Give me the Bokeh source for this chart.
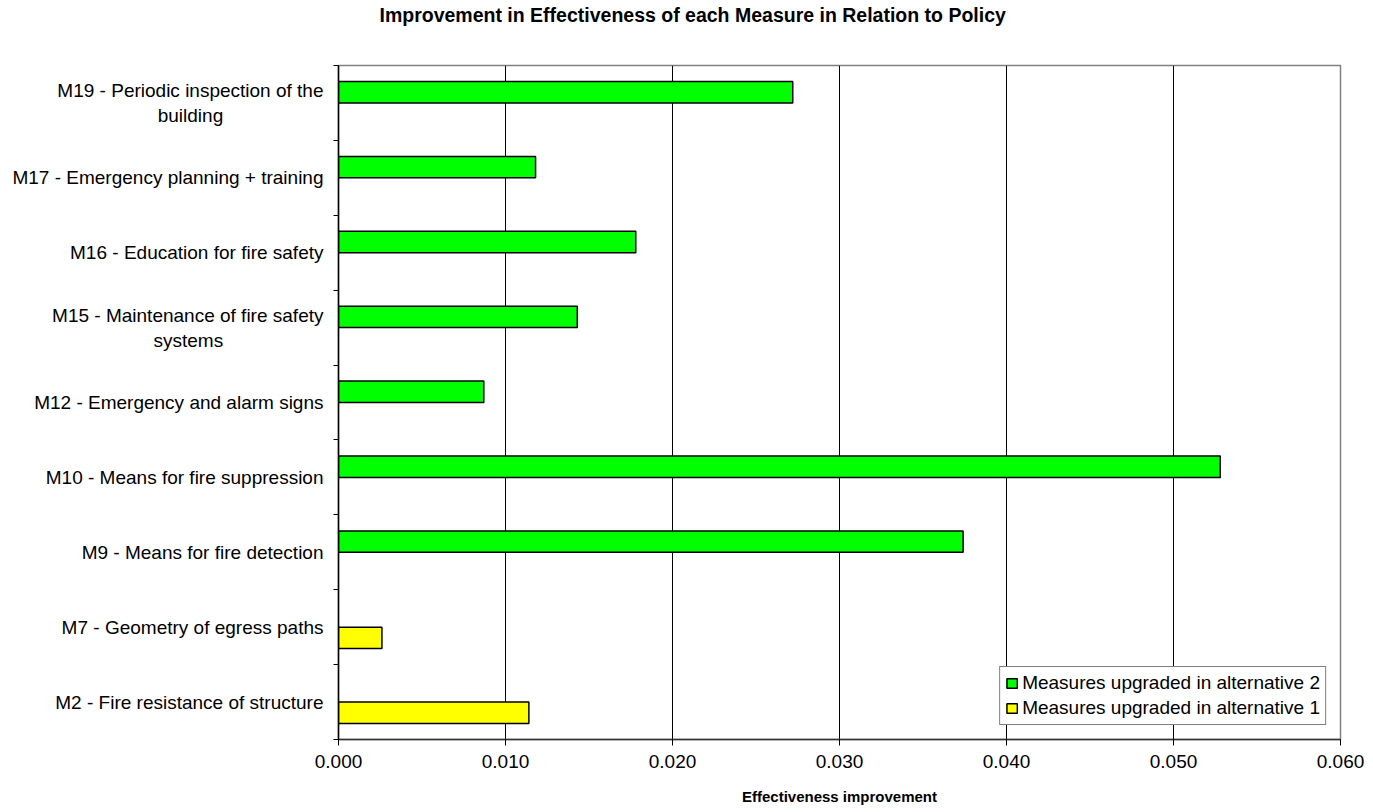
import numpy as np
from bokeh.plotting import figure
from bokeh.models import Range1d, FixedTicker, NumeralTickFormatter, ColumnDataSource, Title
from bokeh.embed import file_html
from bokeh.resources import INLINE

# ---- data (bottom to top) ----
measures = [
    "M2 - Fire resistance of structure",
    "M7 - Geometry of egress paths",
    "M9 - Means for fire detection",
    "M10 - Means for fire suppression",
    "M12 - Emergency and alarm signs",
    "M15 - Maintenance of fire safety\nsystems",
    "M16 - Education for fire safety",
    "M17 - Emergency planning + training",
    "M19 - Periodic inspection of the\nbuilding",
]
alt2_values = [np.nan, np.nan, 0.0374, 0.0528, 0.0087, 0.0143, 0.0178, 0.0118, 0.0272]
alt1_values = [0.0114, 0.0026, np.nan, np.nan, np.nan, np.nan, np.nan, np.nan, np.nan]
x_ticks = [0.0, 0.01, 0.02, 0.03, 0.04, 0.05, 0.06]
title_text = "Improvement in Effectiveness of each Measure in Relation to Policy"
x_title = "Effectiveness improvement"
alt2_name = "Measures upgraded in alternative 2"
alt1_name = "Measures upgraded in alternative 1"

FONT = "Liberation Sans"
FS = 19

# Arial / Liberation Sans advance widths (per 1000 em), used to centre 2nd lines
W = {' ': 278, '-': 333, '+': 584, 'M': 833, 'P': 667, 'E': 667, 'F': 611, 'G': 778,
     'a': 556, 'b': 556, 'c': 500, 'd': 556, 'e': 556, 'f': 278, 'g': 556, 'h': 556,
     'i': 222, 'l': 222, 'm': 833, 'n': 556, 'o': 556, 'p': 556, 'r': 333, 's': 500,
     't': 278, 'u': 556, 'v': 500, 'y': 500}


def text_width(s):
    return sum(W.get(ch, 556) for ch in s)


def centred_label(name):
    lines = name.split("\n")
    if len(lines) == 1:
        return name
    pad = int(round((text_width(lines[0]) - text_width(lines[1])) / 2 / 278))
    return lines[0] + "\n" + lines[1] + "\u00a0" * pad


n = len(measures)
idx = np.arange(n)
bar_h = 1 / 3.5
off = bar_h / 2

src2 = ColumnDataSource(dict(y=idx + 0.5 + off, right=alt2_values))
src1 = ColumnDataSource(dict(y=idx + 0.5 - off, right=alt1_values))

p = figure(width=1373, height=812, x_range=Range1d(x_ticks[0], x_ticks[-1]),
           y_range=Range1d(0, n), output_backend="svg", toolbar_location=None,
           min_border_left=338, min_border_right=33, min_border_top=65, min_border_bottom=73)
p.title = None
p.background_fill_color = "white"
p.border_fill_color = "white"
p.outline_line_color = "#808080"
p.outline_line_width = 1.5

p.hbar(y="y", right="right", left=0, height=bar_h, source=src2, fill_color="#00FF00",
       line_color="black", line_width=1.5, legend_label=alt2_name)
p.hbar(y="y", right="right", left=0, height=bar_h, source=src1, fill_color="#FFFF00",
       line_color="black", line_width=1.5, legend_label=alt1_name)

# blank spacer panel between frame and title
p.add_layout(Title(text="\u00a0", standoff=37, text_font_size="1px"), "above")

# title (outside the spacer)
p.add_layout(Title(text=title_text, align="left", offset=41, standoff=0,
                   text_font=FONT, text_font_size="19.5px", text_font_style="bold",
                   text_color="black"), "above")

# grid
p.ygrid.visible = False
p.xgrid.ticker = FixedTicker(ticks=x_ticks)
p.xgrid.grid_line_color = "black"
p.xgrid.grid_line_width = 1

# x axis
xa = p.below[0]
xa.ticker = FixedTicker(ticks=x_ticks)
xa.formatter = NumeralTickFormatter(format="0.000")
xa.major_tick_in = 0
xa.major_tick_out = 6
xa.minor_tick_line_color = None
xa.axis_line_color = "#333333"
xa.axis_line_width = 1.5
xa.major_tick_line_color = "black"
xa.major_label_text_font = FONT
xa.major_label_text_font_size = f"{FS}px"
xa.major_label_text_color = "black"
xa.major_label_standoff = 9
xa.axis_label = x_title
xa.axis_label_text_font = FONT
xa.axis_label_text_font_size = "15px"
xa.axis_label_text_font_style = "bold"
xa.axis_label_text_color = "black"
xa.axis_label_standoff = 17

# y axis: labels at category centres, tick marks at category boundaries (minor ticks)
ya = p.left[0]
centres = [float(i) + 0.5 for i in range(n)]
ya.ticker = FixedTicker(ticks=centres, minor_ticks=[float(i) for i in range(n + 1)])
ya.major_label_overrides = {c: centred_label(m) for c, m in zip(centres, measures)}
ya.major_tick_line_color = None
ya.major_tick_in = 0
ya.major_tick_out = 5
ya.minor_tick_in = 0
ya.minor_tick_out = 5
ya.minor_tick_line_color = "black"
ya.minor_tick_line_width = 1
ya.axis_line_color = "black"
ya.axis_line_width = 1.5
ya.major_label_standoff = 10
ya.major_label_text_font = FONT
ya.major_label_text_font_size = f"{FS}px"
ya.major_label_text_color = "black"
ya.major_label_text_line_height = 1.2

# legend
lg = p.legend[0]
lg.location = "bottom_right"
lg.margin = 14
lg.padding = 5
lg.spacing = 3
lg.label_height = 20
lg.glyph_width = 13
lg.glyph_height = 12
lg.label_standoff = 4
lg.label_text_font = FONT
lg.label_text_font_size = f"{FS}px"
lg.label_text_color = "black"
lg.border_line_color = "black"
lg.border_line_width = 1
lg.background_fill_color = "white"
lg.background_fill_alpha = 1

open("out.html", "w").write(file_html(p, INLINE))
